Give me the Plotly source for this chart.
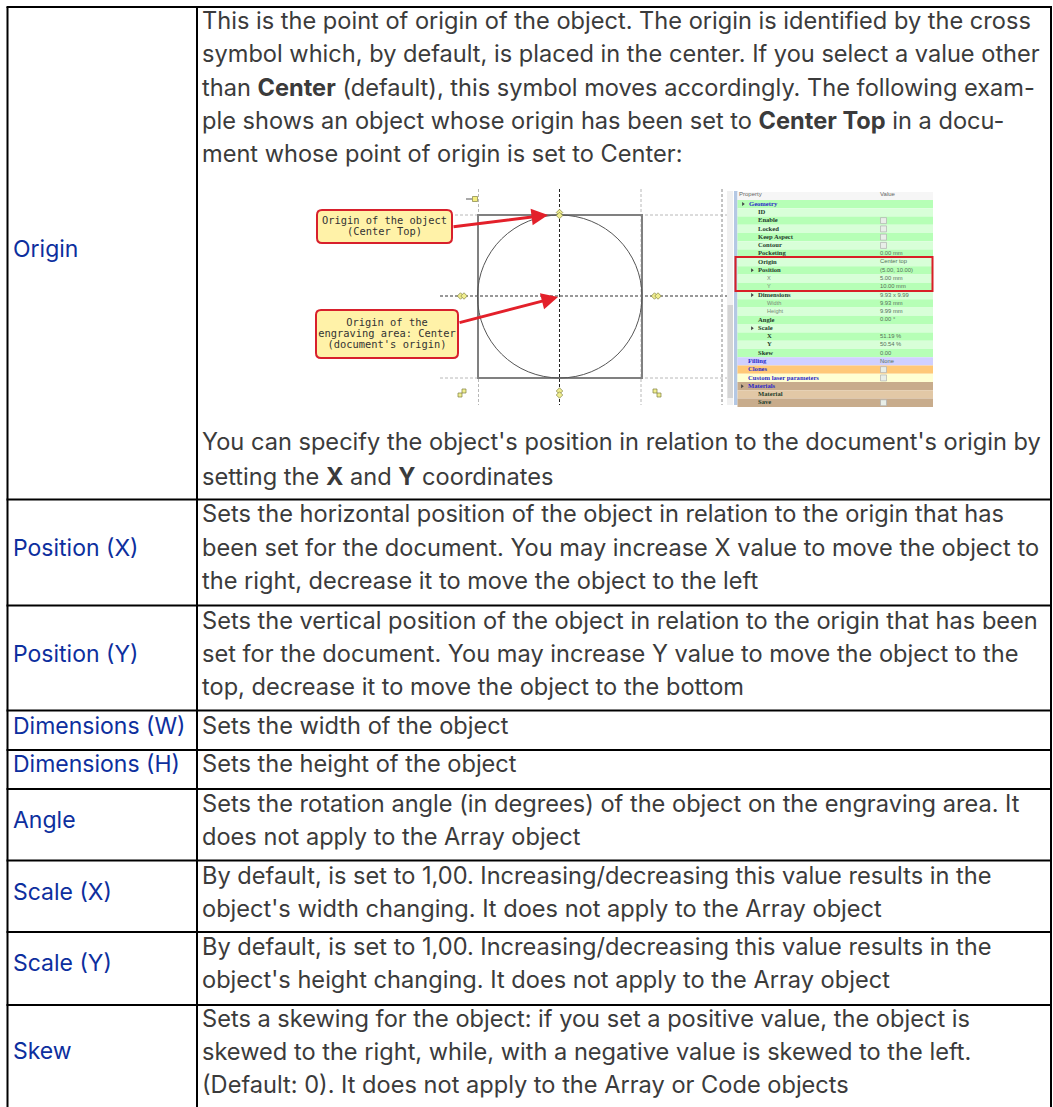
import plotly.graph_objects as go

W, H = 1053, 1107

# ---- table content ----
row_labels = ["Origin", "Position (X)", "Position (Y)", "Dimensions (W)", "Dimensions (H)",
              "Angle", "Scale (X)", "Scale (Y)", "Skew"]
label_y = [250, 549, 655, 727, 765, 821, 893, 964, 1052]

body_lines = [
    "This is the point of origin of the object. The origin is identified by the cross",
    "symbol which, by default, is placed in the center. If you select a value other",
    "than <b>Center</b> (default), this symbol moves accordingly. The following exam-",
    "ple shows an object whose origin has been set to <b>Center Top</b> in a docu-",
    "ment whose point of origin is set to Center:",
    "You can specify the object's position in relation to the document's origin by",
    "setting the <b>X</b> and <b>Y</b> coordinates",
    "Sets the horizontal position of the object in relation to the origin that has",
    "been set for the document. You may increase X value to move the object to",
    "the right, decrease it to move the object to the left",
    "Sets the vertical position of the object in relation to the origin that has been",
    "set for the document. You may increase Y value to move the object to the",
    "top, decrease it to move the object to the bottom",
    "Sets the width of the object",
    "Sets the height of the object",
    "Sets the rotation angle (in degrees) of the object on the engraving area. It",
    "does not apply to the Array object",
    "By default, is set to 1,00. Increasing/decreasing this value results in the",
    "object's width changing. It does not apply to the Array object",
    "By default, is set to 1,00. Increasing/decreasing this value results in the",
    "object's height changing. It does not apply to the Array object",
    "Sets a skewing for the object: if you set a positive value, the object is",
    "skewed to the right, while, with a negative value is skewed to the left.",
    "(Default: 0). It does not apply to the Array or Code objects",
]
body_y = [22, 55, 89, 122, 155, 443, 478, 515, 549, 582, 622, 655, 688, 727, 765,
          805, 838, 877, 910, 948, 981, 1020, 1053, 1086]
text_dy = 1.5

row_edges = [7, 499.5, 605.5, 710.5, 750, 789, 860.5, 932, 1005]
col_edges = [7.5, 197, 1051]

# ---- property panel content ----
prop_names = ["Geometry", "ID", "Enable", "Locked", "Keep Aspect", "Contour", "Pocketing",
              "Origin", "Position", "X", "Y", "Dimensions", "Width", "Height", "Angle",
              "Scale", "X", "Y", "Skew", "Filling", "Clones", "Custom laser parameters",
              "Materials", "Material", "Save"]
prop_values = ["", "", "", "", "", "", "0.00 mm", "Center top", "(5.00, 10.00)", "5.00 mm",
               "10.00 mm", "9.93 x 9.99", "9.93 mm", "9.99 mm", "0.00 °", "", "51.19 %",
               "50.54 %", "0.00", "None", "", "", "", "", ""]
prop_kind = ["g", "p", "p", "p", "p", "p", "p", "p", "p", "s", "s", "p", "s", "s", "p", "p",
             "b", "b", "p", "g", "g", "g", "g", "p", "p"]
prop_indent = [749, 758, 758, 758, 758, 758, 758, 758, 758, 767, 767, 758, 767, 767, 758, 758,
               767, 767, 758, 748, 748, 748, 748, 758, 758]
prop_fill = ["#b6ffb6", "#d8ffd8", "#b6ffb6", "#d8ffd8", "#b6ffb6", "#d8ffd8", "#b6ffb6",
             "#d8ffd8", "#b6ffb6", "#d8ffd8", "#b6ffb6", "#d8ffd8", "#b6ffb6", "#d8ffd8",
             "#b6ffb6", "#d8ffd8", "#b6ffb6", "#d8ffd8", "#b6ffb6", "#d0d0ff", "#ffc878",
             "#ffffd2", "#c8ac8c", "#e2c8a6", "#c8ac8c"]
prop_checks = ["Enable", "Locked", "Keep Aspect", "Contour", "Clones", "Custom laser parameters", "Save"]
prop_expand = ["Geometry", "Position", "Dimensions", "Scale", "Materials"]
panel_top, row_h = 199.9, 8.28
panel_x = [735, 933]

# ---- drawing ----
callouts = [
    dict(text="Origin of the object<br>(Center Top)", box=[317, 210, 452, 243], y=[221, 232]),
    dict(text="Origin of the<br>engraving area: Center<br>(document's origin)", box=[316, 310, 458, 358], y=[323, 334, 345]),
]
arrows = [[452, 227, 548, 215], [458, 323, 558, 297]]

shapes = []

def rline(x0, y0, x1, y1, color, width, dash="solid", layer="below"):
    shapes.append(dict(type="line", x0=x0, y0=y0, x1=x1, y1=y1, layer=layer,
                       line=dict(color=color, width=width, dash=dash)))

# table grid
for y in row_edges:
    rline(col_edges[0] - 1, y, col_edges[2] + 1, y, "#000000", 2)
for x in col_edges:
    rline(x, row_edges[0], x, H, "#000000", 2)

# guide lines of drawing
for y, c, w in [(215, "#b8b8b8", 1), (296, "#333333", 1), (378, "#b8b8b8", 1)]:
    rline(440, y, 727, y, c, w, "3px,2px")
for x, c in [(478.5, "#b8b8b8"), (641, "#b8b8b8"), (559.5, "#222222"), (722, "#b0b0b0")]:
    rline(x, 189, x, 405, c, 1, "3px,2px")

# white panel behind
shapes.append(dict(type="rect", x0=727, x1=933.5, y0=190, y1=405.5, layer="below",
                   fillcolor="#ffffff", line=dict(width=0)))
rline(722, 189, 722, 405, "#b0b0b0", 1, "3px,2px")

# object rect and circle
shapes.append(dict(type="rect", x0=478, x1=642, y0=215, y1=378, layer="below",
                   line=dict(color="#808080", width=2)))
shapes.append(dict(type="circle", x0=477.5, x1=642, y0=215, y1=378, layer="below",
                   line=dict(color="#555555", width=1)))

# panel rows
shapes.append(dict(type="rect", x0=727, x1=733, y0=191, y1=405, layer="below",
                   fillcolor="#f0f0f0", line=dict(width=0)))
shapes.append(dict(type="rect", x0=727.5, x1=733, y0=305, y1=398, layer="below",
                   fillcolor="#d4d4d4", line=dict(width=0)))
shapes.append(dict(type="rect", x0=734, x1=737.5, y0=191, y1=405, layer="below",
                   fillcolor="#b4c8e4", line=dict(width=0)))
shapes.append(dict(type="rect", x0=737.5, x1=933, y0=192, y1=199.9, layer="below",
                   fillcolor="#f6f6f6", line=dict(width=0)))
for i, fill in enumerate(prop_fill):
    shapes.append(dict(type="rect", x0=737.5, x1=panel_x[1],
                       y0=panel_top + i * row_h, y1=panel_top + (i + 1) * row_h,
                       layer="below", fillcolor=fill, line=dict(width=0)))
shapes.append(dict(type="rect", x0=735.5, x1=932.5, y0=257, y1=291, layer="above",
                   line=dict(color="#d81f26", width=2)))

# rounded callouts
r = 5
for c in callouts:
    x0, y0, x1, y1 = c["box"]
    path = (f"M {x0+r},{y0} L {x1-r},{y0} Q {x1},{y0} {x1},{y0+r} L {x1},{y1-r} Q {x1},{y1} {x1-r},{y1} "
            f"L {x0+r},{y1} Q {x0},{y1} {x0},{y1-r} L {x0},{y0+r} Q {x0},{y0} {x0+r},{y0} Z")
    shapes.append(dict(type="path", path=path, layer="below", fillcolor="#fff2a8",
                       line=dict(color="#d8202c", width=2)))

fig = go.Figure()

# labels
fig.add_trace(go.Scatter(x=[13] * len(row_labels), y=[v + text_dy for v in label_y], text=row_labels,
                         mode="text", textposition="middle right", hoverinfo="skip",
                         textfont=dict(family="Inter", size=23, color="#0d2f9e")))
# body
fig.add_trace(go.Scatter(x=[202] * len(body_lines), y=[v + text_dy for v in body_y], text=body_lines,
                         mode="text", textposition="middle right", hoverinfo="skip",
                         textfont=dict(family="Inter", size=23.6, color="#3b3b3b")))

# callout text
for c in callouts:
    x0, _, x1, _ = c["box"]
    parts = c["text"].split("<br>")
    fig.add_trace(go.Scatter(x=[(x0 + x1) / 2] * len(parts), y=c["y"], text=parts, mode="text",
                             textposition="middle center", hoverinfo="skip",
                             textfont=dict(family="DejaVu Sans Mono", size=10.4, color="#333333")))

# panel text
colors = {"g": "#2a2ac8", "p": "#24402c", "s": "#7a8a7a", "b": "#24402c"}
for kind in "gpsb":
    idx = [i for i, k in enumerate(prop_kind) if k == kind]
    txt = [prop_names[i] if kind == "s" else f"<b>{prop_names[i]}</b>" for i in idx]
    fig.add_trace(go.Scatter(x=[prop_indent[i] for i in idx],
                             y=[panel_top + (i + 0.5) * row_h for i in idx],
                             text=txt, mode="text", textposition="middle right", hoverinfo="skip",
                             textfont=dict(family="Liberation Serif" if kind != "s" else "Liberation Sans",
                                           size=6.6 if kind != "s" else 5.6, color=colors[kind])))
vi = [i for i, v in enumerate(prop_values) if v]
fig.add_trace(go.Scatter(x=[880] * len(vi), y=[panel_top + (i + 0.5) * row_h for i in vi],
                         text=[prop_values[i] for i in vi], mode="text",
                         textposition="middle right", hoverinfo="skip",
                         textfont=dict(family="Liberation Sans", size=5.8, color="#55705a")))
fig.add_trace(go.Scatter(x=[739, 880], y=[194.5, 194.5], text=["Property", "Value"], mode="text",
                         textposition="middle right", hoverinfo="skip",
                         textfont=dict(family="Liberation Sans", size=6, color="#666666")))
# checkboxes
ci = [prop_names.index(n) for n in prop_checks]
fig.add_trace(go.Scatter(x=[883.5] * len(ci), y=[panel_top + (i + 0.5) * row_h for i in ci],
                         mode="markers", hoverinfo="skip",
                         marker=dict(symbol="square", size=6, color="#e8eee8",
                                     line=dict(color="#b0b0b0", width=0.7))))
# expanders
ei = [prop_names.index(n) for n in prop_expand]
fig.add_trace(go.Scatter(x=[prop_indent[i] - 6 for i in ei],
                         y=[panel_top + (i + 0.5) * row_h for i in ei],
                         mode="markers", hoverinfo="skip",
                         marker=dict(symbol="triangle-right", size=3.5, color="#444444")))

# selection handles
hx = [460.5, 464, 654.5, 658, 559.5, 559.5, 559.5, 559.5]
hy = [296, 296, 296, 296, 391, 395, 212.5, 215.5]
fig.add_trace(go.Scatter(x=hx, y=hy, mode="markers", hoverinfo="skip",
                         marker=dict(symbol="diamond", size=5, color="#f0ee90",
                                     line=dict(color="#808040", width=0.7))))
fig.add_trace(go.Scatter(x=[460, 464, 655, 659], y=[395, 391, 391, 395], mode="markers", hoverinfo="skip",
                         marker=dict(symbol="square", size=4, color="#f0ee90",
                                     line=dict(color="#808040", width=0.7))))
fig.add_trace(go.Scatter(x=[475], y=[199], mode="markers", hoverinfo="skip",
                         marker=dict(symbol="square", size=5, color="#f5ee80",
                                     line=dict(color="#808040", width=0.7))))
rline(466, 199, 472, 199, "#555555", 1)

annotations = [dict(x=x1, y=y1, ax=x0, ay=y0, xref="x", yref="y", axref="x", ayref="y",
                    showarrow=True, arrowhead=2, arrowsize=1.1, arrowwidth=3,
                    arrowcolor="#e3202a", text="")
               for x0, y0, x1, y1 in arrows]

fig.update_layout(width=W, height=H, margin=dict(l=0, r=0, t=0, b=0), showlegend=False,
                  paper_bgcolor="#ffffff", plot_bgcolor="#ffffff", shapes=shapes,
                  annotations=annotations,
                  xaxis=dict(range=[0, W], visible=False, fixedrange=True),
                  yaxis=dict(range=[H, 0], visible=False, fixedrange=True))
fig.write_html("out.html", config=dict(displayModeBar=False),
               post_script="document.body.style.margin='0';document.body.style.overflow='hidden';")
